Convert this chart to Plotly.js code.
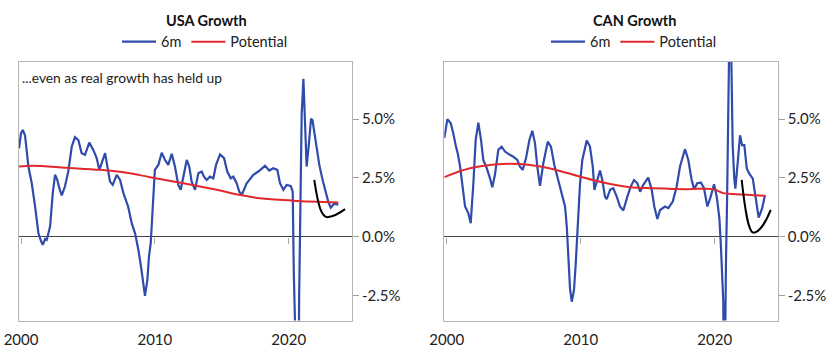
<!DOCTYPE html>
<html>
<head>
<meta charset="utf-8">
<script src="https://cdn.plot.ly/plotly-3.0.1.min.js"></script>
<style>html,body{margin:0;padding:0;background:#fff;}#chart{width:840px;height:358px;}</style>
</head>
<body>
<div id="chart"></div>
<script>
// ---- Data ----
const usaYears = [1999.85,2000.0,2000.13,2000.3,2000.55,2000.8,2001.05,2001.3,2001.5,2001.62,2001.8,2001.92,2002.17,2002.37,2002.54,2002.71,2002.86,2003.04,2003.28,2003.53,2003.79,2004.03,2004.28,2004.53,2004.78,2005.1,2005.4,2005.65,2005.85,2006.1,2006.28,2006.45,2006.65,2006.85,2007.15,2007.4,2007.65,2008.0,2008.27,2008.52,2008.77,2009.0,2009.14,2009.26,2009.44,2009.56,2009.69,2009.84,2010.0,2010.26,2010.51,2010.76,2011.0,2011.26,2011.5,2011.75,2011.93,2012.13,2012.38,2012.57,2012.75,2013.0,2013.25,2013.5,2013.67,2013.87,2014.12,2014.37,2014.57,2014.87,2015.17,2015.41,2015.67,2015.86,2016.11,2016.31,2016.49,2016.86,2017.36,2017.73,2018.23,2018.55,2018.85,2019.15,2019.35,2019.6,2019.85,2020.15,2020.3,2020.38,2020.45,2020.7,2020.78,2020.88,2020.97,2021.1,2021.2,2021.34,2021.5,2021.67,2021.78,2022.04,2022.29,2022.54,2022.79,2022.96,2023.14,2023.39,2023.71];
const usa6m = [3.76,4.4,4.54,4.3,2.98,2.27,1.28,0.14,-0.2,-0.35,-0.1,-0.14,0.43,1.85,2.63,2.41,2.06,1.75,2.13,2.77,3.83,4.23,4.11,3.55,3.48,4.0,3.69,3.34,2.84,3.26,3.55,2.98,2.34,2.2,2.63,2.41,1.85,1.28,0.57,0.14,-0.57,-1.42,-2.13,-2.52,-1.84,-0.85,-0.28,1.56,2.84,3.05,3.57,3.26,3.05,3.52,2.98,2.2,1.99,2.55,3.26,2.98,2.34,1.99,2.7,2.77,2.55,2.41,2.55,2.48,3.05,3.5,3.34,2.77,2.48,2.55,2.27,1.91,1.77,2.27,2.63,2.77,3.01,2.81,2.91,2.84,2.27,1.99,2.2,2.16,1.91,-1.5,-9,-9,-2.6,3.0,5.2,6.72,5.16,2.98,3.89,5.02,4.95,3.89,3.04,2.4,1.83,1.48,1.23,1.4,1.36];
const usaPotYears = [1999.85,2000.92,2003.41,2005.9,2007.9,2009.64,2012.13,2014.62,2016.36,2017.85,2020.34,2023.71];
const usaPot = [2.98,3.02,2.93,2.84,2.72,2.53,2.27,1.99,1.77,1.63,1.53,1.45];

const canYears = [1999.82,2000.05,2000.3,2000.49,2000.69,2000.82,2001.0,2001.19,2001.37,2001.61,2001.79,2001.99,2002.16,2002.36,2002.56,2002.73,2002.99,2003.23,2003.4,2003.6,2003.85,2004.1,2004.35,2004.6,2004.97,2005.27,2005.47,2005.67,2005.92,2006.17,2006.39,2006.59,2006.76,2006.96,2007.21,2007.54,2007.78,2008.03,2008.33,2008.58,2008.83,2008.96,2009.02,2009.08,2009.2,2009.33,2009.5,2009.63,2009.75,2009.82,2009.95,2010.12,2010.45,2010.69,2010.9,2011.02,2011.19,2011.44,2011.61,2011.81,2011.94,2012.19,2012.43,2012.69,2012.93,2013.18,2013.48,2013.73,2013.98,2014.23,2014.43,2014.67,2015.04,2015.3,2015.49,2015.72,2015.92,2016.29,2016.54,2016.87,2017.16,2017.41,2017.78,2018.03,2018.28,2018.46,2018.7,2018.96,2019.2,2019.45,2019.7,2019.95,2020.15,2020.35,2020.47,2020.55,2020.64,2020.7,2020.76,2020.79,2020.84,2020.92,2021.02,2021.1,2021.2,2021.3,2021.34,2021.46,2021.54,2021.72,2021.89,2022.04,2022.21,2022.39,2022.58,2022.84,2023.03,2023.28,2023.53,2023.75];
const can6m = [4.19,5.0,4.82,4.4,3.83,3.55,2.98,1.99,1.28,1.0,0.57,2.27,4.11,4.85,4.11,3.26,2.91,2.48,2.1,2.63,3.69,3.83,3.62,3.52,3.4,3.26,2.98,2.84,3.34,4.11,4.5,3.97,2.98,2.16,3.12,4.04,3.83,3.05,2.41,1.85,1.28,0.43,-0.28,-1.13,-2.2,-2.77,-2.27,-1.13,0.0,0.71,2.27,3.26,4.09,3.83,2.98,1.99,2.34,2.81,2.41,1.7,1.6,1.99,2.06,1.7,1.28,1.11,1.7,2.13,2.41,2.27,1.91,2.2,2.51,1.99,1.28,0.75,1.13,1.28,1.21,1.49,2.13,2.98,3.72,3.26,2.41,2.02,2.27,2.3,2.06,1.28,1.7,2.23,1.7,0.77,-0.51,-1.36,-2.78,-9,-9,-2.5,-1.08,1.48,5.3,9,9,5.0,3.89,2.47,2.04,3.18,4.31,3.89,3.89,2.9,2.68,2.47,1.76,0.81,1.19,1.76];
const canPotYears = [1999.82,2001.74,2004.22,2006.22,2007.96,2009.95,2011.69,2013.68,2015.42,2017.91,2019.9,2020.64,2021.6,2023.75];
const canPot = [2.53,2.91,3.09,3.05,2.87,2.55,2.3,2.1,2.06,2.02,2.02,1.85,1.8,1.74];

const xTickVals = [2000, 2010, 2020];
const xTickText = ["2000", "2010", "2020"];
const yTickVals = [-2.5, 0, 2.5, 5.0];
const yTickText = ["-2.5%", "0.0%", "2.5%", "5.0%"];
const titles = ["USA Growth", "CAN Growth"];
const seriesNames = ["6m", "Potential"];
const noteText = "...even as real growth has held up";

// ---- Styling ----
const FONT = "Lato, 'Open Sans', sans-serif";
const BLUE = "#2f4bab";
const RED = "#e0282e";
const W = 840, H = 358;
const yRange = [-3.57, 7.43];
const yDom = [1 - 320.5 / H, 1 - 62 / H];
const xDomL = [18.5 / W, 352 / W];
const xDomR = [444.3 / W, 777.7 / W];
const xRangeL = [1999.81, 2024.73];
const xRangeR = [1999.82, 2024.70];
const zeroPos = yDom[0] + (0 - yRange[0]) / (yRange[1] - yRange[0]) * (yDom[1] - yDom[0]);

const traces = [
  {x: usaYears, y: usa6m, name: seriesNames[0], mode: "lines", line: {color: BLUE, width: 2.2}, xaxis: "x", yaxis: "y", legend: "legend"},
  {x: usaPotYears, y: usaPot, name: seriesNames[1], mode: "lines", line: {color: RED, width: 2, shape: "spline"}, xaxis: "x", yaxis: "y", legend: "legend"},
  {x: canYears, y: can6m, name: seriesNames[0], mode: "lines", line: {color: BLUE, width: 2.2}, xaxis: "x2", yaxis: "y2", legend: "legend2"},
  {x: canPotYears, y: canPot, name: seriesNames[1], mode: "lines", line: {color: RED, width: 2, shape: "spline"}, xaxis: "x2", yaxis: "y2", legend: "legend2"},
  {x: [2000], y: [null], xaxis: "x3", yaxis: "y", showlegend: false, hoverinfo: "skip", mode: "lines"},
  {x: [2000], y: [null], xaxis: "x4", yaxis: "y2", showlegend: false, hoverinfo: "skip", mode: "lines"}
];

function xAxis(dom, rng, anchor) {
  return {domain: dom, range: rng, anchor: anchor, tickvals: xTickVals, ticktext: xTickText,
    ticks: "", ticklabelstandoff: 5, showgrid: false, zeroline: false, showline: true, mirror: true,
    linecolor: "#b4b4b4", linewidth: 1, tickfont: {family: FONT, size: 15, color: "#222"}, fixedrange: true};
}
function yAxis(anchor) {
  return {domain: yDom, range: yRange, anchor: anchor, side: "right", tickvals: yTickVals, ticktext: yTickText,
    ticks: "outside", ticklen: 6, tickcolor: "#a0a0a0", tickwidth: 1, ticklabelstandoff: 0,
    showgrid: false, zeroline: true, zerolinecolor: "#444", zerolinewidth: 1.6,
    showline: true, mirror: true, linecolor: "#b4b4b4", linewidth: 1,
    tickfont: {family: FONT, size: 15, color: "#222"}, fixedrange: true};
}
function tickAxis(over, rng) {
  return {overlaying: over, anchor: "free", position: zeroPos, range: rng, tickvals: xTickVals,
    ticks: "outside", ticklen: 6, tickcolor: "#a8a8a8", tickwidth: 1, showticklabels: false,
    showline: false, showgrid: false, zeroline: false, fixedrange: true};
}

const curveL = "M 2021.91,2.41 C 2022.2,1.3 2022.45,0.8 2022.96,0.83 C 2023.4,0.86 2023.8,1.0 2024.21,1.17";
const curveR = "M 2022.01,2.41 C 2022.25,1.2 2022.5,0.2 2022.88,0.17 C 2023.3,0.15 2023.8,0.6 2024.18,1.14";

const legendBase = {orientation: "h", xanchor: "center", yanchor: "middle", y: 1 - 41.7 / H,
  font: {family: FONT, size: 14.5, color: "#222"}, bgcolor: "rgba(0,0,0,0)",
  itemwidth: 34, tracegroupgap: 0};

const layout = {
  width: W, height: H, autosize: false,
  margin: {l: 0, r: 0, t: 0, b: 0},
  paper_bgcolor: "#fff", plot_bgcolor: "#fff",
  font: {family: FONT, color: "#222"},
  xaxis: xAxis(xDomL, xRangeL, "y"),
  yaxis: yAxis("x"),
  xaxis2: xAxis(xDomR, xRangeR, "y2"),
  yaxis2: yAxis("x2"),
  xaxis3: tickAxis("x", xRangeL),
  xaxis4: tickAxis("x2", xRangeR),
  legend: Object.assign({}, legendBase, {x: 205 / W}),
  legend2: Object.assign({}, legendBase, {x: 634 / W}),
  annotations: [
    {text: "<b>" + titles[0] + "</b>", xref: "paper", yref: "paper", x: 206 / W, y: 1 - 20 / H, xanchor: "center", yanchor: "middle", showarrow: false, font: {family: FONT, size: 14.5, color: "#111"}},
    {text: "<b>" + titles[1] + "</b>", xref: "paper", yref: "paper", x: 634.5 / W, y: 1 - 20 / H, xanchor: "center", yanchor: "middle", showarrow: false, font: {family: FONT, size: 14.5, color: "#111"}},
    {text: noteText, xref: "paper", yref: "paper", x: 20 / W, y: 1 - 77 / H, xanchor: "left", yanchor: "middle", showarrow: false, font: {family: FONT, size: 13.8, color: "#222"}}
  ],
  shapes: [
    {type: "path", path: curveL, xref: "x", yref: "y", line: {color: "#000", width: 2}},
    {type: "path", path: curveR, xref: "x2", yref: "y2", line: {color: "#000", width: 2}}
  ],
  showlegend: true
};

Plotly.newPlot("chart", traces, layout, {displayModeBar: false, staticPlot: true});
</script>
</body>
</html>
